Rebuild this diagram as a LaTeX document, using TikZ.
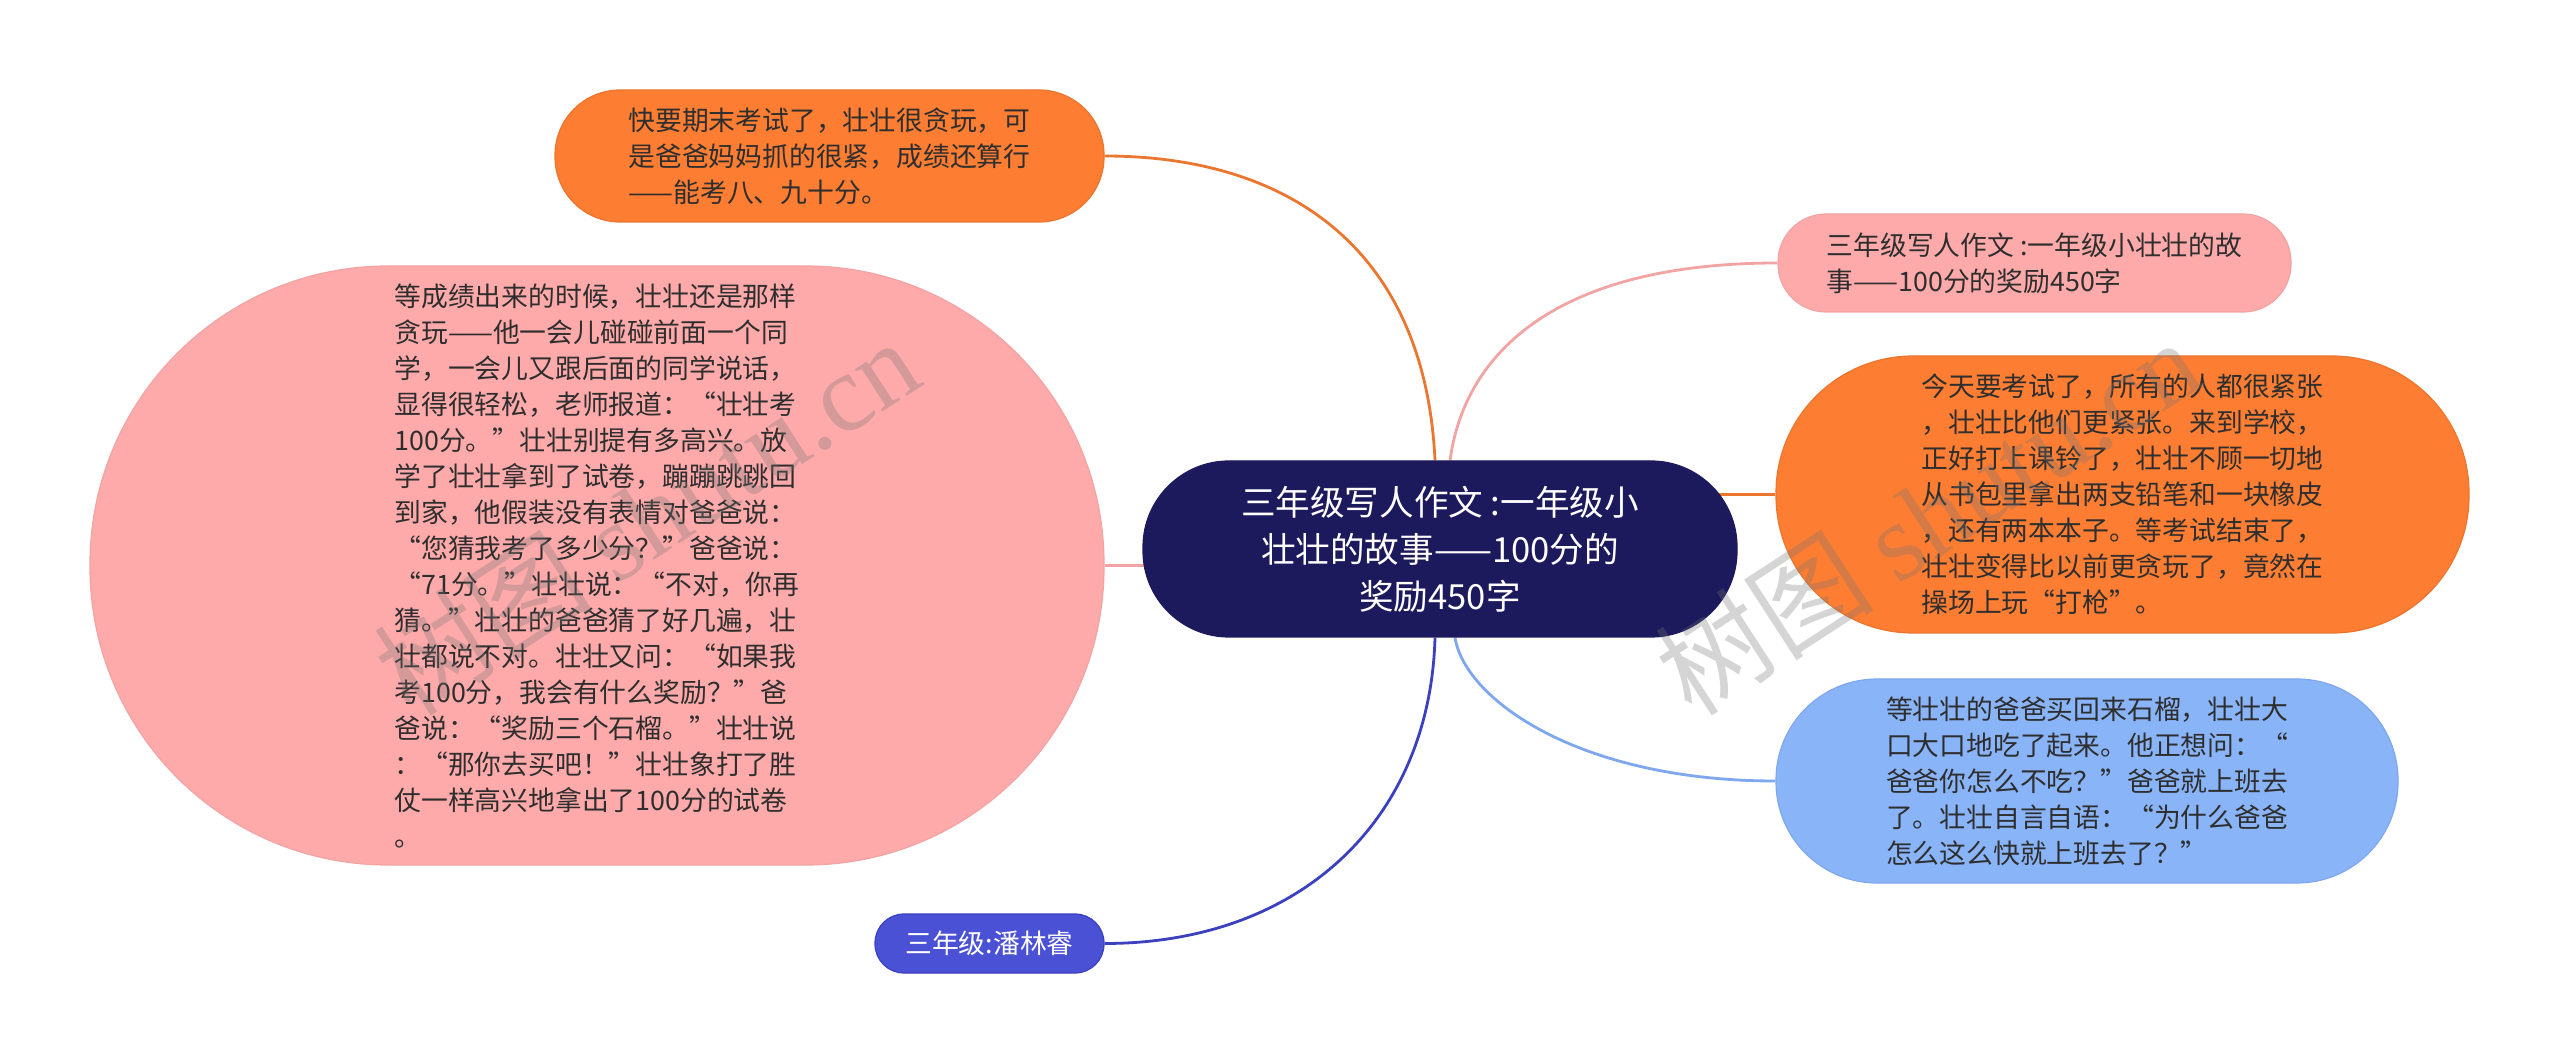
\documentclass[tikz,border=0pt]{standalone}
\usepackage{fontspec}
\setmainfont{Noto Sans CJK SC}
\newfontfamily\wmfont{Liberation Serif}
\usepackage{tikz}
\pgfdeclarelayer{background}
\pgfsetlayers{background,main}
\definecolor{rootblue}{HTML}{1C195C}
\definecolor{boxorange}{HTML}{FD7E33}
\definecolor{edgeorange}{HTML}{EA7630}
\definecolor{boxpink}{HTML}{FFAAAA}
\definecolor{edgepink}{HTML}{F2A3A3}
\definecolor{boxsky}{HTML}{8AB4F8}
\definecolor{edgesky}{HTML}{7EA7EE}
\definecolor{boxindigo}{HTML}{4A51D5}
\definecolor{edgeindigo}{HTML}{3B40BE}
\definecolor{textgray}{HTML}{2E2E2E}
\tikzstyle{topic}=[rectangle,draw,line width=0.6pt,inner sep=0pt,align=left,text=textgray,font=\fontsize{13.4}{18}\selectfont]
\tikzstyle{link}=[draw,line width=1.4pt]
\tikzstyle{watermark}=[rotate=33,text=black!55,text opacity=0.3,font=\fontsize{55}{60}\selectfont]

\begin{document}
\begin{tikzpicture}[x=0.5pt,y=-0.5pt]
    \useasboundingbox (0,0) rectangle (2560,1063);
    % The central topic
    \node[topic,fill=rootblue,draw=rootblue,text=white,align=center,font=\fontsize{17.3}{23.5}\selectfont,
        minimum width=297pt,minimum height=88pt,rounded corners=43pt] (root) at (1440,549)
        {三年级写人作文 :一年级小\\壮壮的故事——100分的\\奖励450字};

    % Left side topics
    \node[topic,fill=boxorange,draw=edgeorange,minimum width=274.5pt,minimum height=66pt,rounded corners=32.5pt] (o1) at (829.5,156)
        {快要期末考试了，壮壮很贪玩，可\\是爸爸妈妈抓的很紧，成绩还算行\\——能考八、九十分。};
    \node[topic,fill=boxpink,draw=edgepink,minimum width=507pt,minimum height=299.5pt,rounded corners=149pt] (p1) at (597,565.5)
        {等成绩出来的时候，壮壮还是那样\\贪玩——他一会儿碰碰前面一个同\\学，一会儿又跟后面的同学说话，\\显得很轻松，老师报道：“壮壮考\\100分。”壮壮别提有多高兴。放\\学了壮壮拿到了试卷，蹦蹦跳跳回\\到家，他假装没有表情对爸爸说：\\“您猜我考了多少分？”爸爸说：\\“71分。”壮壮说：“不对，你再\\猜。”壮壮的爸爸猜了好几遍，壮\\壮都说不对。壮壮又问：“如果我\\考100分，我会有什么奖励？”爸\\爸说：“奖励三个石榴。”壮壮说\\：“那你去买吧！”壮壮象打了胜\\仗一样高兴地拿出了100分的试卷\\。};
    \node[topic,fill=boxindigo,draw=edgeindigo,text=white,minimum width=114.5pt,minimum height=29.5pt,rounded corners=14.5pt] (b1) at (989.5,943.5)
        {三年级:潘林睿};

    % Right side topics
    \node[topic,fill=boxpink,draw=edgepink,minimum width=256.5pt,minimum height=49pt,rounded corners=24pt] (p2) at (2034.5,263)
        {三年级写人作文 :一年级小壮壮的故\\事——100分的奖励450字};
    \node[topic,fill=boxorange,draw=edgeorange,minimum width=346.5pt,minimum height=138.5pt,rounded corners=68.5pt] (o2) at (2122.5,494.5)
        {今天要考试了，所有的人都很紧张\\，壮壮比他们更紧张。来到学校，\\正好打上课铃了，壮壮不顾一切地\\从书包里拿出两支铅笔和一块橡皮\\，还有两本本子。等考试结束了，\\壮壮变得比以前更贪玩了，竟然在\\操场上玩“打枪”。};
    \node[topic,fill=boxsky,draw=edgesky,minimum width=311pt,minimum height=102pt,rounded corners=50.5pt] (b2) at (2087,781)
        {等壮壮的爸爸买回来石榴，壮壮大\\口大口地吃了起来。他正想问：“\\爸爸你怎么不吃？”爸爸就上班去\\了。壮壮自言自语：“为什么爸爸\\怎么这么快就上班去了？”};

    % Connect the topics to the centre
    \begin{pgfonlayer}{background}
        \path[link,draw=edgeorange] ([xshift=-2.5pt]root.north) .. controls (1425,250) and (1290,156) .. (o1.east);
        \path[link,draw=edgepink] (p1.east) -- (root.center |- p1.east);
        \path[link,draw=edgeindigo] ([xshift=-2.5pt]root.south) .. controls (1430,820) and (1300,943.5) .. (b1.east);
        \path[link,draw=edgepink] ([xshift=5pt]root.north) .. controls (1465,350) and (1560,263) .. (p2.west);
        \path[link,draw=edgeorange] (root.center |- o2.west) -- (o2.west);
        \path[link,draw=edgesky] ([xshift=7.5pt]root.south) .. controls (1465,700) and (1580,781) .. (b2.west);
    \end{pgfonlayer}

    % Watermarks
    \node[watermark] (wm1) at (646,516) {树图 {\wmfont shutu.cn}};
    \node[watermark] (wm2) at (1927,516) {树图 {\wmfont shutu.cn}};
\end{tikzpicture}
\end{document}
